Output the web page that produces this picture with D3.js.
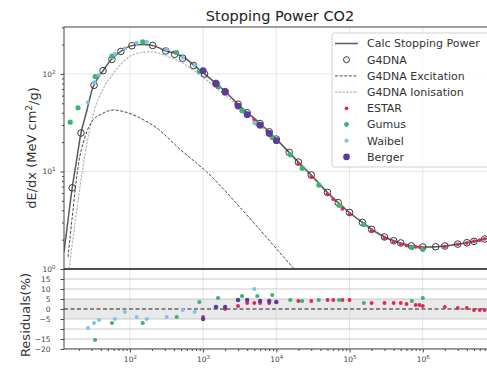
<!DOCTYPE html>
<html>
<head>
<meta charset="utf-8">
<script src="https://cdn.jsdelivr.net/npm/d3@7"></script>
<style>
  body { margin: 0; background: #fff; }
  svg { display: block; font-family: "DejaVu Sans", sans-serif; }
</style>
</head>
<body>
<svg id="chart" width="487" height="368"></svg>
<script>
// ---- Calculated stopping power (eV, MeV cm^2/g) ----
const calcEnergy = [12.6, 14, 16.3, 18.5, 21.5, 25, 31.4, 37, 43, 53.5, 73, 103, 150, 214, 309, 437, 560, 745, 1000,
  2000, 3000, 4000, 5000, 6000, 8000, 1e4, 1.5e4, 2e4, 3e4, 5e4, 7e4, 1e5, 1.5e5, 2e5, 3e5, 5e5, 7e5,
  1e6, 1.5e6, 2e6, 3e6, 5e6, 7e6, 1e7];
const calcValue = [1.5, 2.8, 6.8, 12.3, 24.8, 38.2, 73.6, 92, 108, 136, 168, 194, 200, 194, 172, 160, 146, 123, 103,
  66, 49, 40, 35, 31, 25.5, 21.5, 15.7, 12.5, 9.2, 6.1, 4.8, 3.8, 3.0, 2.55, 2.13, 1.85, 1.73,
  1.68, 1.69, 1.72, 1.80, 1.92, 2.03, 2.15];

// ---- G4DNA excitation and ionisation components ----
const excEnergy = [14.3, 16.7, 19.6, 24.4, 31.4, 39, 58.8, 85.5, 137, 233, 479, 1117, 4296, 17600, 25000];
const excValue  = [1.33, 4.0, 11.1, 22.6, 33.7, 38, 42.7, 40.8, 35.4, 27.9, 17, 9.9, 3.34, 1.0, 0.75];

const ionEnergy = [13, 14.3, 16, 19.6, 24.4, 31.4, 43, 58.8, 85.5, 137, 200, 300, 500, 1000, 2000, 5000,
  1e4, 1e5, 1e6, 1e7];
const ionValue  = [0.5, 0.8, 1.6, 5, 15, 38, 70, 100, 138, 165, 168, 155, 132, 92, 61, 33.5,
  20.8, 3.75, 1.66, 2.12];

// ---- G4DNA simulation points ----
const g4dnaEnergy = [16.3, 21.5, 32.4, 43, 56.9, 75.4, 106.5, 205, 309, 409, 526, 741, 1047, 1500, 2000, 3000,
  4000, 6000, 8000, 1e4, 1.5e4, 2e4, 3e4, 5e4, 7e4, 1e5, 1.5e5, 2e5, 3e5, 4e5, 5e5, 7e5, 1e6, 1.5e6,
  2e6, 3e6, 4e6, 5e6, 7e6];
const g4dnaValue = [6.8, 24.8, 76.5, 108, 141, 170, 195, 196, 172, 159, 145, 122, 100, 80, 66, 49,
  40, 31, 25.5, 21.5, 15.7, 12.5, 9.2, 6.1, 4.8, 3.8, 3.0, 2.55, 2.13, 1.95, 1.85, 1.73, 1.68, 1.69,
  1.72, 1.80, 1.86, 1.92, 2.03];

// ---- Reference data sets: energy, stopping power, residual (%) ----
const estarEnergy = [1000, 2000, 3000, 4000, 5000, 6000, 8000, 1e4, 2e4, 3e4, 5e4, 6e4, 8e4, 1e5, 2e5, 3e5,
  4e5, 5e5, 6e5, 8e5, 9e5, 1e6, 2e6, 3e6, 4e6, 5e6, 6e6, 7e6];
const estarValue = [107, 66, 48.3, 38.8, 34, 30, 24.7, 20.7, 12, 8.8, 5.83, 5.2, 4.15, 3.63, 2.47, 2.07,
  1.91, 1.80, 1.74, 1.69, 1.68, 1.65, 1.70, 1.79, 1.85, 1.93, 1.98, 2.04];
const estarResidual = [-4, 0, 1.5, 3, 3, 3, 3, 3.5, 4, 4, 4.5, 4.5, 4.5, 4.5, 3, 3,
  3, 3, 2.5, 2, 2, 1.5, 1, 0.5, 0.5, -0.5, -0.5, -0.5];

const gumusEnergy = [15.3, 19.6, 33.5, 57, 150, 436, 890, 1600, 3400, 5500, 8800, 15500, 22500, 38000, 72000,
  157000, 710000, 1e6];
const gumusValue = [32, 45, 94, 152, 214, 166, 106, 74, 42, 31, 22.3, 14.8, 10.8, 7.26, 4.5,
  2.86, 1.66, 1.59];
const gumusResidual = [null, null, -15.5, -7, -7, -4, 3.5, 5.5, 6.5, 6.5, 7, 4.5, 4, 4.5, 4.5,
  3, 4, 5.5];

const waibelEnergy = [26.8, 32.4, 37.9, 62.5, 85.5, 124, 170, 318, 526, 767, 1524, 5000];
const waibelValue = [51, 82, 98, 161, 182, 208, 213, 179, 147, 123, 78, 31.5];
const waibelResidual = [-9.5, -7, -5.5, -5, -1.5, -4, -5, -4, -0.5, -1.5, 1, 10];

const bergerEnergy = [1000, 1500, 2000, 3000, 4000, 6000, 8000, 1e4];
const bergerValue = [108, 79, 65, 46.8, 38.2, 29.8, 24.5, 20.7];
const bergerResidual = [-5, 1, 1, 4.5, 4.5, 4, 4, 3.5];

// ---- Axis ticks ----
const xTickValues = [1e2, 1e3, 1e4, 1e5, 1e6];
const yTickValues = [1, 10, 100];
const resTickValues = [15, 10, 5, 0, -5, -10, -15, -20];
const resTickLabels = ["15", "10", "5", "0", "\u22125", "", "\u221215", "\u221220"];
const seriesNames = ["Calc Stopping Power", "G4DNA", "G4DNA Excitation", "G4DNA Ionisation",
  "ESTAR", "Gumus", "Waibel", "Berger"];

// ---- Layout ----
const plotLeft = 64, plotRight = 496, mainTop = 27, mainBottom = 269, resBottom = 349;

const x = d3.scaleLog().domain([12.6, 1e7]).range([plotLeft, plotRight]);
const y = d3.scaleLog().domain([1, 303]).range([mainBottom, mainTop]);
const yRes = d3.scaleLinear().domain([-20, 20]).range([resBottom, mainBottom]);

const colors = {
  calc: "#5a5a5a", g4dna: "#3a3a3a", exc: "#4a4a4a", ion: "#b8b8b8",
  estar: "#dc2a55", gumus: "#3cb371", waibel: "#82bfe9", berger: "#5d3a9b"
};

const svg = d3.select("#chart");
const defs = svg.append("defs");
defs.append("clipPath").attr("id", "clipMain").append("rect")
  .attr("x", plotLeft).attr("y", mainTop).attr("width", plotRight - plotLeft).attr("height", mainBottom - mainTop);
defs.append("clipPath").attr("id", "clipRes").append("rect")
  .attr("x", plotLeft).attr("y", mainBottom).attr("width", plotRight - plotLeft).attr("height", resBottom - mainBottom);

// minor tick positions for log axes
function minorLog(lo, hi) {
  const out = [];
  for (let p = Math.floor(Math.log10(lo)); p <= Math.ceil(Math.log10(hi)); p++) {
    for (let k = 1; k <= 9; k++) {
      const v = k * Math.pow(10, p);
      if (v >= lo && v <= hi && k !== 1) out.push(v);
    }
  }
  return out;
}

// ---- Residual panel background ----
const resG = svg.append("g").attr("clip-path", "url(#clipRes)");
resG.append("rect")
  .attr("x", plotLeft).attr("width", plotRight - plotLeft)
  .attr("y", yRes(5)).attr("height", yRes(-5) - yRes(5))
  .attr("fill", "#e9e9e9");
resG.selectAll(".vgrid").data(xTickValues).join("line")
  .attr("x1", d => x(d)).attr("x2", d => x(d))
  .attr("y1", mainBottom).attr("y2", resBottom)
  .attr("stroke", "#dcdcdc").attr("stroke-width", 0.8);
resG.selectAll(".hgrid").data(resTickValues.filter(v => v !== 0)).join("line")
  .attr("x1", plotLeft).attr("x2", plotRight)
  .attr("y1", d => yRes(d)).attr("y2", d => yRes(d))
  .attr("stroke", "#bdbdbd").attr("stroke-width", 0.8);
resG.append("line")
  .attr("x1", plotLeft).attr("x2", plotRight)
  .attr("y1", yRes(0)).attr("y2", yRes(0))
  .attr("stroke", "#222").attr("stroke-width", 1.1).attr("stroke-dasharray", "4,2.5");

// ---- Main panel grid ----
const mainG = svg.append("g").attr("clip-path", "url(#clipMain)");
mainG.selectAll(".vgrid").data(xTickValues).join("line")
  .attr("x1", d => x(d)).attr("x2", d => x(d))
  .attr("y1", mainTop).attr("y2", mainBottom)
  .attr("stroke", "#e0e0e0").attr("stroke-width", 0.8);
mainG.selectAll(".hgrid").data(yTickValues).join("line")
  .attr("x1", plotLeft).attr("x2", plotRight)
  .attr("y1", d => y(d)).attr("y2", d => y(d))
  .attr("stroke", "#e0e0e0").attr("stroke-width", 0.8);

// ---- Curves ----
function curve(energies, values) {
  return d3.line().x(d => x(d[0])).y(d => y(d[1])).curve(d3.curveMonotoneX)(d3.zip(energies, values));
}
mainG.append("path").attr("d", curve(ionEnergy, ionValue))
  .attr("fill", "none").attr("stroke", colors.ion).attr("stroke-width", 1.2).attr("stroke-dasharray", "2.5,1.2");
mainG.append("path").attr("d", curve(excEnergy, excValue))
  .attr("fill", "none").attr("stroke", colors.exc).attr("stroke-width", 1).attr("stroke-dasharray", "3,1.6");
mainG.append("path").attr("d", curve(calcEnergy, calcValue))
  .attr("fill", "none").attr("stroke", colors.calc).attr("stroke-width", 1.5);

// ---- Points ----
mainG.selectAll(".g4").data(d3.zip(g4dnaEnergy, g4dnaValue)).join("circle")
  .attr("cx", d => x(d[0])).attr("cy", d => y(d[1])).attr("r", 3.3)
  .attr("fill", "none").attr("stroke", colors.g4dna).attr("stroke-width", 1);

function dots(g, energies, values, yScale, color, r) {
  g.append("g").selectAll("circle")
    .data(d3.zip(energies, values).filter(d => d[1] !== null))
    .join("circle")
    .attr("cx", d => x(d[0])).attr("cy", d => yScale(d[1])).attr("r", r)
    .attr("fill", color);
}
dots(mainG, estarEnergy, estarValue, y, colors.estar, 1.9);
dots(mainG, gumusEnergy, gumusValue, y, colors.gumus, 2.6);
dots(mainG, waibelEnergy, waibelValue, y, colors.waibel, 2.1);
dots(mainG, bergerEnergy, bergerValue, y, colors.berger, 3.4);

dots(resG, estarEnergy, estarResidual, yRes, colors.estar, 1.9);
dots(resG, gumusEnergy, gumusResidual, yRes, colors.gumus, 2.1);
dots(resG, waibelEnergy, waibelResidual, yRes, colors.waibel, 2.0);
dots(resG, bergerEnergy, bergerResidual, yRes, colors.berger, 2.2);

// ---- Spines ----
svg.append("rect").attr("x", plotLeft).attr("y", mainTop)
  .attr("width", plotRight - plotLeft).attr("height", mainBottom - mainTop)
  .attr("fill", "none").attr("stroke", "#444").attr("stroke-width", 1);
svg.append("rect").attr("x", plotLeft).attr("y", mainBottom)
  .attr("width", plotRight - plotLeft).attr("height", resBottom - mainBottom)
  .attr("fill", "none").attr("stroke", "#444").attr("stroke-width", 1);
svg.append("line").attr("x1", plotLeft).attr("x2", plotRight)
  .attr("y1", mainBottom).attr("y2", mainBottom)
  .attr("stroke", "#444").attr("stroke-width", 1.6);

// ---- Axes ----
function superscriptLabels(sel) {
  sel.selectAll(".tick text").each(function(d) {
    const t = d3.select(this);
    t.text("");
    t.append("tspan").text("10");
    t.append("tspan").attr("dy", "-0.55em").attr("font-size", "5.5px").text(Math.round(Math.log10(d)));
  });
}
function styleAxis(g) {
  g.select(".domain").remove();
  g.selectAll(".tick line").attr("stroke", "#444");
  g.selectAll(".tick text").attr("fill", "#444").attr("font-size", "7.5px")
    .attr("font-family", "DejaVu Sans, sans-serif");
}

// main y axis
const yAxisG = svg.append("g").attr("transform", `translate(${plotLeft},0)`)
  .call(d3.axisLeft(y).tickValues(yTickValues).tickSize(3.5).tickPadding(5));
styleAxis(yAxisG);
superscriptLabels(yAxisG);
const yMinorG = svg.append("g").attr("transform", `translate(${plotLeft},0)`)
  .call(d3.axisLeft(y).tickValues(minorLog(1, 303)).tickSize(2).tickFormat(""));
styleAxis(yMinorG);

// residual y axis
const resAxisG = svg.append("g").attr("transform", `translate(${plotLeft},0)`)
  .call(d3.axisLeft(yRes).tickValues(resTickValues).tickSize(3.5).tickPadding(10)
    .tickFormat((d, i) => resTickLabels[i]));
styleAxis(resAxisG);

// bottom x axis
const xAxisG = svg.append("g").attr("transform", `translate(0,${resBottom})`)
  .call(d3.axisBottom(x).tickValues(xTickValues).tickSize(3.5).tickPadding(4));
styleAxis(xAxisG);
superscriptLabels(xAxisG);
const xMinorG = svg.append("g").attr("transform", `translate(0,${resBottom})`)
  .call(d3.axisBottom(x).tickValues(minorLog(12.6, 1e7)).tickSize(2).tickFormat(""));
styleAxis(xMinorG);

// ---- Titles ----
svg.append("text").attr("x", 280).attr("y", 20.5).attr("text-anchor", "middle")
  .attr("font-size", "14.5px").attr("fill", "#222").text("Stopping Power CO2");

const yLab = svg.append("text")
  .attr("transform", `translate(36,${(mainTop + mainBottom) / 2}) rotate(-90)`)
  .attr("text-anchor", "middle").attr("font-size", "13px").attr("fill", "#333");
yLab.append("tspan").text("dE/dx (MeV cm");
yLab.append("tspan").attr("dy", "-0.45em").attr("font-size", "9px").text("2");
yLab.append("tspan").attr("dy", "0.45em").text("/g)");

svg.append("text")
  .attr("transform", `translate(30,315) rotate(-90)`)
  .attr("text-anchor", "middle").attr("font-size", "13px").attr("fill", "#333")
  .text("Residuals(%)");

// ---- Legend ----
const legend = svg.append("g").attr("transform", "translate(332,33)");
legend.append("rect").attr("width", 170).attr("height", 134).attr("rx", 2)
  .attr("fill", "#fff").attr("fill-opacity", 0.85).attr("stroke", "#d0d0d0");
const legendStyles = [
  { kind: "line", stroke: colors.calc, width: 1.5 },
  { kind: "open", stroke: colors.g4dna, r: 3 },
  { kind: "line", stroke: colors.exc, width: 1, dash: "3,1.6" },
  { kind: "line", stroke: colors.ion, width: 1.2, dash: "2.5,1.2" },
  { kind: "dot", fill: colors.estar, r: 1.9 },
  { kind: "dot", fill: colors.gumus, r: 2.4 },
  { kind: "dot", fill: colors.waibel, r: 2.1 },
  { kind: "dot", fill: colors.berger, r: 3.3 }
];
seriesNames.forEach((name, i) => {
  const s = legendStyles[i];
  const row = legend.append("g").attr("transform", `translate(0,${10.5 + i * 16.2})`);
  if (s.kind === "line") {
    row.append("line").attr("x1", 3).attr("x2", 26).attr("y1", 0).attr("y2", 0)
      .attr("stroke", s.stroke).attr("stroke-width", s.width).attr("stroke-dasharray", s.dash || null);
  } else if (s.kind === "open") {
    row.append("circle").attr("cx", 14.5).attr("cy", 0).attr("r", s.r)
      .attr("fill", "none").attr("stroke", s.stroke);
  } else {
    row.append("circle").attr("cx", 14.5).attr("cy", 0).attr("r", s.r).attr("fill", s.fill);
  }
  row.append("text").attr("x", 35).attr("y", 0).attr("dy", "0.35em")
    .attr("font-size", "11px").attr("fill", "#333").text(name);
});
</script>
</body>
</html>
